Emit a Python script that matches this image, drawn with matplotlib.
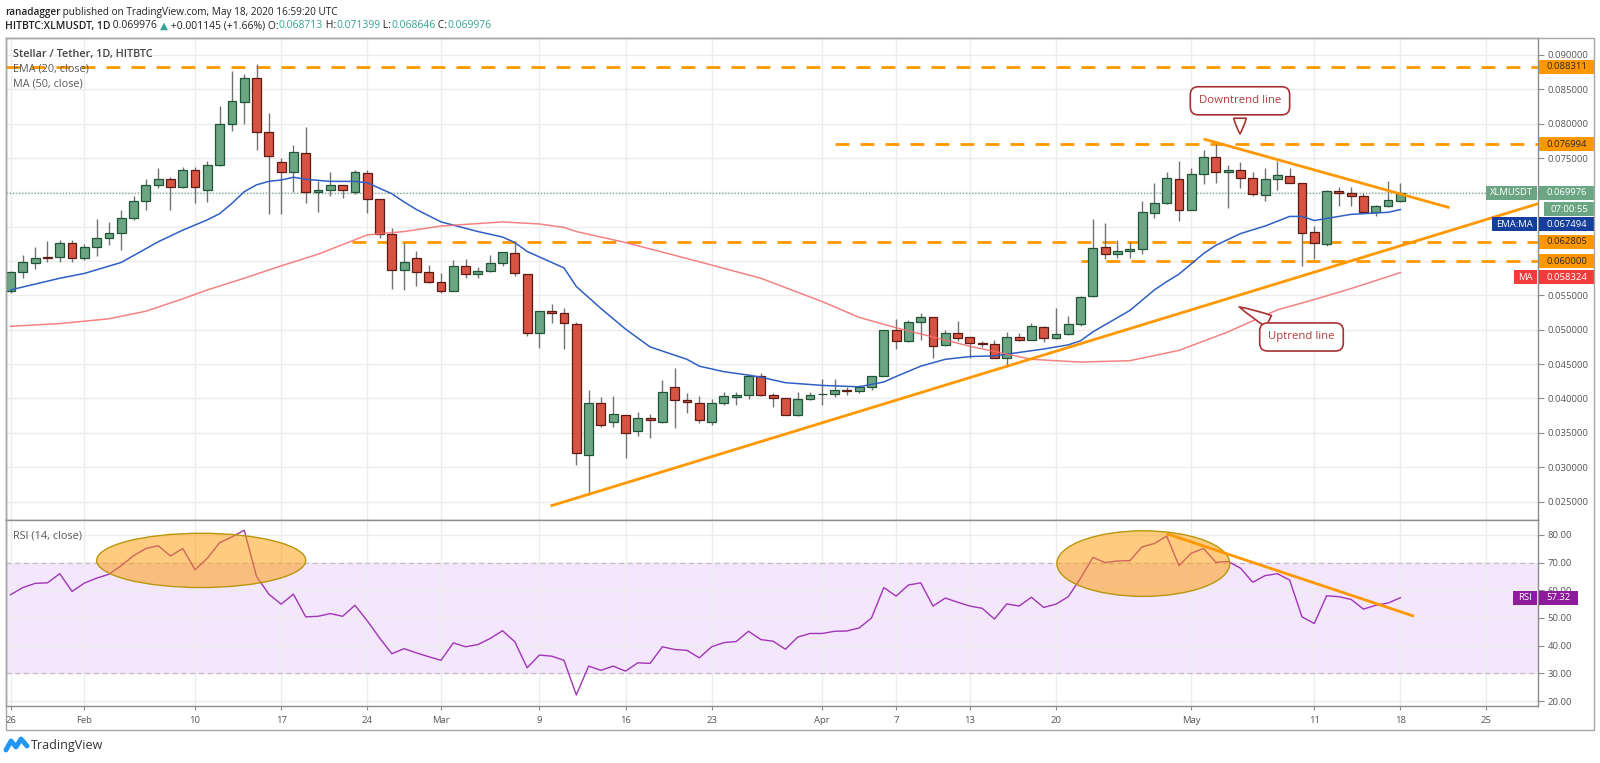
import numpy as np
import pandas as pd
import matplotlib
matplotlib.use("Agg")
import matplotlib.pyplot as plt
from matplotlib.patches import Ellipse, Rectangle

plt.rcParams['font.family'] = ['Open Sans', 'DejaVu Sans']

# ---------------- data ----------------
dates = pd.date_range('2020-01-26', '2020-05-18', freq='D')

opens = [0.0557, 0.0584, 0.0597, 0.0606, 0.0606, 0.0627, 0.0605, 0.0621, 0.0633, 0.0641,
         0.0662, 0.0688, 0.0710, 0.0720, 0.0708, 0.0733, 0.0704, 0.0740, 0.0800, 0.0832,
         0.0866, 0.0788, 0.0744, 0.0729, 0.0757, 0.0700, 0.0703, 0.0710, 0.0701, 0.0728,
         0.0690, 0.0640, 0.0587, 0.0605, 0.0584, 0.0569, 0.0557, 0.0593, 0.0581, 0.0585,
         0.0597, 0.0612, 0.0581, 0.0495, 0.0528, 0.0524, 0.0509, 0.0318, 0.0394, 0.0366,
         0.0376, 0.0352, 0.0371, 0.0366, 0.0417, 0.0398, 0.0393, 0.0366, 0.0394, 0.0402,
         0.0405, 0.0433, 0.0405, 0.0400, 0.0376, 0.0399, 0.0406, 0.0407, 0.0412, 0.0411,
         0.0417, 0.0433, 0.0499, 0.0484, 0.0512, 0.0518, 0.0478, 0.0496, 0.0489, 0.0481,
         0.0479, 0.0459, 0.0490, 0.0485, 0.0504, 0.0488, 0.0494, 0.0509, 0.0549, 0.0620,
         0.0611, 0.0615, 0.0618, 0.0670, 0.0684, 0.0720, 0.0675, 0.0727, 0.0752, 0.0730,
         0.0733, 0.0721, 0.0696, 0.0719, 0.0724, 0.0714, 0.0642, 0.0625, 0.0702, 0.0699,
         0.0694, 0.0672, 0.0680, 0.068713]
highs = [0.0586, 0.0609, 0.0620, 0.0629, 0.0631, 0.0630, 0.0625, 0.0661, 0.0657, 0.0674,
         0.0695, 0.0719, 0.0735, 0.0722, 0.0737, 0.0737, 0.0745, 0.0825, 0.0876, 0.0872,
         0.0887, 0.0815, 0.0750, 0.0769, 0.0795, 0.0716, 0.0729, 0.0711, 0.0733, 0.0733,
         0.0691, 0.0648, 0.0626, 0.0614, 0.0595, 0.0583, 0.0602, 0.0603, 0.0592, 0.0609,
         0.0613, 0.0628, 0.0581, 0.0528, 0.0537, 0.0532, 0.0511, 0.0413, 0.0402, 0.0404,
         0.0376, 0.0381, 0.0378, 0.0427, 0.0444, 0.0408, 0.0404, 0.0399, 0.0409, 0.0409,
         0.0434, 0.0437, 0.0408, 0.0401, 0.0409, 0.0409, 0.0429, 0.0429, 0.0417, 0.0420,
         0.0433, 0.0499, 0.0516, 0.0514, 0.0524, 0.0519, 0.0499, 0.0513, 0.0489, 0.0484,
         0.0485, 0.0497, 0.0495, 0.0510, 0.0505, 0.0531, 0.0520, 0.0549, 0.0661, 0.0655,
         0.0630, 0.0628, 0.0687, 0.0713, 0.0730, 0.0745, 0.0735, 0.0761, 0.0770, 0.0740,
         0.0744, 0.0730, 0.0735, 0.0746, 0.0735, 0.0714, 0.0651, 0.0703, 0.0708, 0.0708,
         0.0699, 0.0681, 0.0717, 0.071399]
lows = [0.0554, 0.0576, 0.0589, 0.0599, 0.0598, 0.0598, 0.0601, 0.0607, 0.0623, 0.0616,
        0.0660, 0.0674, 0.0707, 0.0674, 0.0707, 0.0685, 0.0686, 0.0739, 0.0790, 0.0800,
        0.0762, 0.0669, 0.0669, 0.0701, 0.0685, 0.0672, 0.0694, 0.0692, 0.0698, 0.0670,
        0.0634, 0.0560, 0.0558, 0.0564, 0.0568, 0.0554, 0.0556, 0.0575, 0.0575, 0.0584,
        0.0593, 0.0578, 0.0491, 0.0474, 0.0510, 0.0472, 0.0303, 0.0260, 0.0359, 0.0359,
        0.0314, 0.0346, 0.0343, 0.0365, 0.0357, 0.0379, 0.0365, 0.0361, 0.0391, 0.0390,
        0.0399, 0.0404, 0.0388, 0.0376, 0.0375, 0.0398, 0.0391, 0.0402, 0.0405, 0.0408,
        0.0412, 0.0432, 0.0472, 0.0482, 0.0485, 0.0459, 0.0476, 0.0484, 0.0459, 0.0475,
        0.0459, 0.0446, 0.0483, 0.0485, 0.0482, 0.0486, 0.0492, 0.0506, 0.0548, 0.0603,
        0.0605, 0.0605, 0.0611, 0.0662, 0.0683, 0.0659, 0.0675, 0.0712, 0.0714, 0.0677,
        0.0706, 0.0695, 0.0687, 0.0703, 0.0713, 0.0593, 0.0603, 0.0622, 0.0680, 0.0680,
        0.0671, 0.0665, 0.0678, 0.068646]
closes = [0.0584, 0.0598, 0.0605, 0.0605, 0.0627, 0.0604, 0.0621, 0.0633, 0.0641, 0.0662,
          0.0688, 0.0710, 0.0720, 0.0708, 0.0733, 0.0708, 0.0740, 0.0800, 0.0833, 0.0866,
          0.0788, 0.0753, 0.0729, 0.0759, 0.0701, 0.0703, 0.0710, 0.0703, 0.0730, 0.0690,
          0.0640, 0.0587, 0.0598, 0.0584, 0.0569, 0.0556, 0.0593, 0.0581, 0.0585, 0.0597,
          0.0613, 0.0582, 0.0495, 0.0528, 0.0525, 0.0510, 0.0320, 0.0393, 0.0361, 0.0378,
          0.0350, 0.0371, 0.0368, 0.0410, 0.0398, 0.0395, 0.0369, 0.0393, 0.0403, 0.0405,
          0.0433, 0.0405, 0.0400, 0.0376, 0.0399, 0.0405, 0.0407, 0.0412, 0.0411, 0.0417,
          0.0433, 0.0499, 0.0484, 0.0512, 0.0518, 0.0477, 0.0496, 0.0488, 0.0481, 0.0479,
          0.0459, 0.0490, 0.0485, 0.0505, 0.0488, 0.0494, 0.0509, 0.0548, 0.0619, 0.0611,
          0.0615, 0.0617, 0.0671, 0.0684, 0.0721, 0.0675, 0.0727, 0.0752, 0.0730, 0.0733,
          0.0721, 0.0698, 0.0719, 0.0726, 0.0714, 0.0641, 0.0626, 0.0702, 0.0699, 0.0694,
          0.0672, 0.0680, 0.06883, 0.069976]

rsi = [58.4, 61.0, 62.5, 62.7, 66.0, 59.6, 62.6, 64.4, 65.8, 68.9,
       72.5, 75.1, 76.1, 72.4, 75.1, 67.4, 71.6, 77.2, 79.3, 81.7,
       65.0, 58.6, 55.0, 58.6, 50.4, 50.6, 51.6, 50.6, 54.6, 49.0,
       42.8, 37.1, 38.9, 37.4, 36.0, 34.7, 41.0, 39.6, 40.4, 42.6,
       45.4, 41.4, 32.0, 36.6, 36.2, 34.7, 22.2, 32.6, 31.1, 32.6,
       30.8, 33.8, 33.6, 39.6, 38.6, 38.3, 35.6, 39.6, 41.1, 41.5,
       45.2, 42.2, 41.6, 38.7, 43.1, 44.4, 44.4, 45.2, 45.3, 46.4,
       50.0, 61.0, 57.9, 61.9, 62.7, 54.3, 57.2, 55.7, 54.3, 53.5,
       49.6, 55.1, 54.3, 57.5, 53.8, 55.0, 57.7, 64.4, 71.9, 70.0,
       70.6, 70.7, 75.7, 76.9, 79.6, 68.9, 73.4, 75.1, 70.1, 70.4,
       68.0, 62.9, 65.3, 66.0, 63.7, 50.4, 48.0, 58.0, 57.7, 56.7,
       53.2, 54.6, 55.4, 57.32]

# EMA(20) and MA(50), sampled by day index
ema_idx = [0, 4, 6, 9, 12, 14, 16, 17, 18, 19, 20, 21, 22, 23, 24, 26, 28, 29, 30, 31,
           32, 33, 35, 38, 40, 41, 42, 45, 46, 48, 50, 52, 55, 56, 58, 60, 61, 63, 66, 69,
           71, 72, 74, 76, 78, 80, 82, 84, 86, 87, 88, 91, 93, 94, 95, 97, 98, 100, 102, 104,
           105, 106, 107, 109, 110, 112, 113]
ema_vals = [0.0558, 0.0575, 0.0582, 0.0598, 0.0628, 0.0645, 0.0660, 0.0669, 0.0684, 0.0701,
            0.0711, 0.0716, 0.0718, 0.0722, 0.0719, 0.0716, 0.0716, 0.0714, 0.0706, 0.0698,
            0.0686, 0.0675, 0.0657, 0.0643, 0.0635, 0.0627, 0.0614, 0.0590, 0.0563, 0.0531,
            0.0501, 0.0475, 0.0457, 0.0447, 0.0439, 0.0434, 0.0431, 0.0423, 0.0419, 0.0417,
            0.0424, 0.0432, 0.0447, 0.0457, 0.0461, 0.0462, 0.0467, 0.0472, 0.0478, 0.0484,
            0.0497, 0.0528, 0.0558, 0.0570, 0.0581, 0.0611, 0.0623, 0.0640, 0.0651, 0.0665,
            0.0665, 0.0659, 0.0662, 0.0668, 0.0669, 0.0671, 0.067494]
ma_idx = [0, 4, 8, 11, 14, 16, 19, 22, 25, 29, 32, 35, 40, 43, 45, 46, 50, 56, 61, 66,
          69, 72, 78, 83, 87, 91, 95, 99, 103, 106, 109, 113]
ma_vals = [0.0505, 0.0509, 0.0516, 0.0527, 0.0545, 0.0558, 0.0575, 0.0593, 0.0610, 0.0638,
           0.0643, 0.0651, 0.0657, 0.0654, 0.0649, 0.0643, 0.0627, 0.0599, 0.0575, 0.0541,
           0.0518, 0.0503, 0.0476, 0.0457, 0.0453, 0.0455, 0.0470, 0.0497, 0.0529, 0.0544,
           0.0560, 0.058324]

# horizontal levels and the day index where each one starts
levels = [0.088311, 0.076994, 0.062805, 0.060000]
level_start = [-0.4, 67.0, 27.8, 87.0]
last_price = 0.069976

# drawn trend lines (day index, value)
uptrend_x = [43.9, 124.2]
uptrend_y = [0.02435, 0.06836]
downtrend_x = [97.0, 117.0]
downtrend_y = [0.07777, 0.06777]
rsi_trend_x = [94.1, 114.0]
rsi_trend_y = [80.3, 50.8]

tick_days = ['2020-01-26', '2020-02-01', '2020-02-10', '2020-02-17', '2020-02-24',
             '2020-03-01', '2020-03-09', '2020-03-16', '2020-03-23', '2020-04-01',
             '2020-04-07', '2020-04-13', '2020-04-20', '2020-05-01', '2020-05-11',
             '2020-05-18', '2020-05-25']
tick_labels = ['26', 'Feb', '10', '17', '24', 'Mar', '9', '16', '23', 'Apr',
               '7', '13', '20', 'May', '11', '18', '25']
price_ticks = np.arange(0.025, 0.0901, 0.005)
hidden_price_ticks = [0.060, 0.065, 0.070]   # covered by the value boxes
rsi_ticks = [20, 30, 40, 50, 60, 70, 80]

# ---------------- figure ----------------
W, H = 1600, 763
fig = plt.figure(figsize=(16, 7.63), dpi=100)
fig.patch.set_facecolor('white')


def px_axes(left, top, right, bottom, **kw):
    return fig.add_axes([left / W, 1 - bottom / H, (right - left) / W, (bottom - top) / H], **kw)


ax = px_axes(6, 38, 1538, 520)
ax2 = px_axes(6, 520, 1538, 706, sharex=ax)

x = np.arange(len(dates))
o = np.array(opens); c = np.array(closes); hi = np.array(highs); lo = np.array(lows)
up = c >= o
tick_pos = [(pd.Timestamp(d) - dates[0]).days for d in tick_days]

GRID = '#ececec'
AXC = '#8c8c8c'
TXT = '#555555'

for a in (ax, ax2):
    a.set_xlim(-0.37, 124.19)
    a.set_xticks(tick_pos)
    a.grid(True, color=GRID, lw=1)
    a.set_axisbelow(True)
    for s in a.spines.values():
        s.set_color(AXC)
        s.set_linewidth(1)
    a.yaxis.tick_right()
    a.tick_params(axis='y', colors=AXC, labelcolor=TXT, labelsize=6.8, length=4, pad=3)

ax.set_ylim(0.02231, 0.09247)
ax.set_yticks(price_ticks)
ax.set_yticklabels(['' if any(abs(v - hp) < 1e-6 for hp in hidden_price_ticks) else '%.6f' % v
                    for v in price_ticks])
ax.tick_params(axis='x', length=0, labelbottom=False)

ax2.set_ylim(18.2, 85.4)
ax2.set_yticks(rsi_ticks)
ax2.set_yticklabels(['%.2f' % v for v in rsi_ticks])
ax2.set_xticklabels(tick_labels)
ax2.tick_params(axis='x', colors=AXC, labelcolor=TXT, labelsize=6.8, length=3, pad=4)

# ---- price panel ----
for lv, st in zip(levels, level_start):
    ax.hlines(lv, st, 124.19, color='#ff9800', lw=2, linestyles=(0, (5, 4)), zorder=2)
ax.axhline(last_price, color='#6ba583', lw=0.9, ls=(0, (1, 1.5)), zorder=2)

ax.vlines(x, lo, hi, color='#737375', lw=1, zorder=3)
ax.bar(x[up], (c - o)[up], bottom=o[up], width=0.72, color='#6ba583',
       edgecolor='#225437', lw=0.9, zorder=4)
ax.bar(x[~up], (o - c)[~up], bottom=c[~up], width=0.72, color='#d75442',
       edgecolor='#5b1a13', lw=0.9, zorder=4)

ax.plot(ema_idx, ema_vals, color='#2f5fc4', lw=1.1, zorder=5)
ax.plot(ma_idx, ma_vals, color='#f26d6d', lw=1.1, alpha=0.85, zorder=5)

ax.plot(uptrend_x, uptrend_y, color='#ff9800', lw=2, zorder=6, solid_capstyle='butt')
ax.plot(downtrend_x, downtrend_y, color='#ff9800', lw=2, zorder=6, solid_capstyle='butt')

red = '#a83232'
callout = dict(ha='center', va='center', color='#b23c3c', fontsize=8.2, zorder=8,
               bbox=dict(boxstyle='round,pad=0.75,rounding_size=0.7', fc='white', ec=red, lw=1.2),
               arrowprops=dict(arrowstyle='wedge,tail_width=1.1,shrink_factor=0.6',
                               fc='white', ec=red, lw=1.2))
ax.annotate('Downtrend line', xy=(99.96, 0.07811), xytext=(99.96, 0.08333), **callout)
ax.annotate('Uptrend line', xy=(99.69, 0.05351), xytext=(104.96, 0.04895), **callout)

# ---- RSI panel ----
ax2.axhspan(30, 70, color='#f3e6fd', zorder=0)
ax2.axhline(70, color='#c6b9cf', lw=0.9, ls=(0, (4, 3)), zorder=1)
ax2.axhline(30, color='#c6b9cf', lw=0.9, ls=(0, (4, 3)), zorder=1)
ax2.plot(x, rsi, color='#a035b5', lw=1, zorder=3)
for cx, cy, w, h in [(15.5, 70.8, 17.0, 19.6), (92.1, 69.65, 14.06, 23.7)]:
    ax2.add_patch(Ellipse((cx, cy), w, h, fc='#ff9800', alpha=0.5, ec='none', zorder=4))
    ax2.add_patch(Ellipse((cx, cy), w, h, fill=False, ec='#b8960c', lw=1, zorder=4))
ax2.plot(rsi_trend_x, rsi_trend_y, color='#ff9800', lw=2, zorder=5)

# ---------------- texts & label boxes ----------------
def ytop(a, v):
    return H - a.transData.transform((0, v))[1]


def pbox(x0, x1, yc, text, fc, tc='white', h=14):
    fig.add_artist(Rectangle((x0 / W, 1 - (yc + h / 2) / H), (x1 - x0) / W, h / H,
                             transform=fig.transFigure, fc=fc, ec='none', zorder=10))
    fig.text((x0 + x1) / 2 / W, 1 - yc / H, text, color=tc, fontsize=6.8,
             ha='center', va='center', zorder=11)


ORANGE = '#ff9800'
GREEN = '#6ba583'
NAVY = '#163f9b'
MARED = '#f23c3c'
PURPLE = '#8e1a9c'

for lv in levels:
    pbox(1539, 1594, ytop(ax, lv), '%.6f' % lv, ORANGE, tc='#2a2a2a')
y_last = ytop(ax, last_price)
pbox(1486, 1537, y_last, 'XLMUSDT', GREEN)
pbox(1539, 1594, y_last, '%.6f' % last_price, GREEN)
pbox(1544, 1594, y_last + 16.5, '07:00:55', GREEN)
y_ema = ytop(ax, ema_vals[-1]) + 14.5
pbox(1492, 1537, y_ema, 'EMA:MA', NAVY)
pbox(1539, 1594, y_ema, '%.6f' % ema_vals[-1], NAVY)
y_ma = ytop(ax, ma_vals[-1]) + 4.5
pbox(1514, 1537, y_ma, 'MA', MARED)
pbox(1539, 1594, y_ma, '%.6f' % ma_vals[-1], MARED)
y_rsi = ytop(ax2, rsi[-1])
pbox(1513, 1537, y_rsi, 'RSI', PURPLE)
pbox(1539, 1578, y_rsi, '%.2f' % rsi[-1], PURPLE)

# outer frame
fig.add_artist(Rectangle((6 / W, 1 - 730 / H), (1594 - 6) / W, (730 - 38) / H,
                         transform=fig.transFigure, fill=False, ec='#a6a6a6', lw=1, zorder=12))

renderer = fig.canvas.get_renderer()


def run_text(x0, yc, pieces, size):
    xx = x0
    for s, col, wt in pieces:
        t = fig.text(xx / W, 1 - yc / H, s, color=col, fontsize=size, fontweight=wt,
                     ha='left', va='center')
        xx += t.get_window_extent(renderer=renderer).width


DARK = '#222222'
TEAL = '#33a396'
run_text(5, 12, [('ranadagger', DARK, 'semibold'),
                 (' published on TradingView.com, May 18, 2020 16:59:20 UTC', DARK, 'normal')], 7.2)
run_text(5, 26, [('HITBTC:XLMUSDT, 1D', DARK, 'semibold'),
                 (' 0.069976 ', DARK, 'normal'), ('\u25B2', TEAL, 'normal'),
                 (' +0.001145 (+1.66%) O:', DARK, 'normal'), ('0.068713', TEAL, 'normal'),
                 (' H:', DARK, 'normal'), ('0.071399', TEAL, 'normal'),
                 (' L:', DARK, 'normal'), ('0.068646', TEAL, 'normal'),
                 (' C:', DARK, 'normal'), ('0.069976', TEAL, 'normal')], 7.5)

fig.text(13 / W, 1 - 54 / H, 'Stellar / Tether, 1D, HITBTC', color='#454545', fontsize=7.8,
         fontweight='semibold', va='center')
fig.text(13 / W, 1 - 69 / H, 'EMA (20, close)', color='#5a5a5a', fontsize=7.8, va='center')
fig.text(13 / W, 1 - 84 / H, 'MA (50, close)', color='#5a5a5a', fontsize=7.8, va='center')
fig.text(13 / W, 1 - 536 / H, 'RSI (14, close)', color='#5a5a5a', fontsize=7.8, va='center')

# TradingView logo
fig.add_artist(plt.Line2D(np.array([6, 11, 16, 21, 27]) / W, 1 - np.array([750, 741, 747, 739, 746]) / H,
                          transform=fig.transFigure, color='#2196f3', lw=3.5,
                          solid_joinstyle='round', solid_capstyle='round'))
fig.text(31 / W, 1 - 746 / H, 'TradingView', color='#333333', fontsize=9, va='center')

fig.savefig('out.png', dpi=100, facecolor='white')
